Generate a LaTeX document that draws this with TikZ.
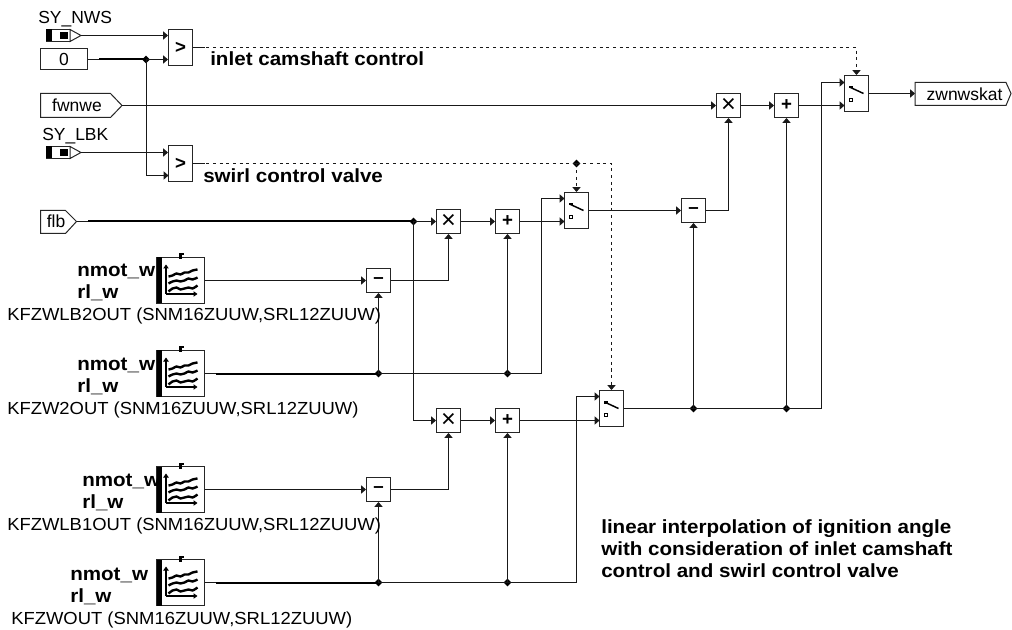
\documentclass[tikz,border=0pt]{standalone}
\usepackage{fontspec}
\usetikzlibrary{arrows.meta,shapes.geometric}
\setmainfont{Liberation Sans}
\newfontfamily\bfam[FakeStretch=1.08]{Liberation Sans Bold}
\newfontfamily\cfam[FakeStretch=1.055]{Liberation Sans}
\newcommand{\regf}{\fontsize{13.1pt}{15pt}\selectfont}
\newcommand{\capf}{\fontsize{13.1pt}{15pt}\cfam}
\newcommand{\boldf}{\fontsize{14.3pt}{15pt}\bfam}
\tikzset{
  x=0.75pt,y=-0.75pt,
  wire/.style={line width=0.75pt,draw=black!90},
  thickwire/.style={line width=1.5pt,draw=black},
  arr/.style={wire,-{Triangle[length=3.6pt,width=6pt]}},
  dashwire/.style={wire,dash pattern=on 2.25pt off 2.75pt},
  dasharr/.style={dashwire,-{Triangle[length=3.6pt,width=6pt]}},
  opbox/.style={draw=black!85,line width=0.75pt,fill=white,minimum width=18pt,minimum height=18pt,inner sep=0pt},
  tallbox/.style={draw=black!85,line width=0.75pt,fill=white,minimum width=18pt,minimum height=27pt,inner sep=0pt},
  mapbox/.style={draw=black!85,line width=0.75pt,fill=white,minimum width=36pt,minimum height=34.5pt,inner sep=0pt},
  mulf/.style={font=\fontsize{19pt}{19pt}\selectfont},
  addf/.style={font=\bfseries\fontsize{14pt}{14pt}\selectfont},
  junc/.style={diamond,fill=black,inner sep=0pt,minimum size=6pt},
  tagtext/.style={font=\regf,inner sep=0pt},
  lbl/.style={font=\regf,inner sep=0pt,anchor=base west},
  clbl/.style={font=\capf,inner sep=0pt,anchor=base west},
  blbl/.style={font=\boldf,inner sep=0pt,anchor=base west},
  tag/.style={draw=black!85,line width=0.75pt,fill=white},
}
\newcommand{\mapicon}[1]{%
  \begin{scope}[shift={(#1.center)}]
    \fill[black] (-24,-23) rectangle (-19,23);
    \fill[black] (-1.5,-27) rectangle (1,-21);
    \fill[black] (1,-27) rectangle (3,-25);
    \draw[line width=0.9pt,-{Triangle[length=3pt,width=4pt]}] (-14.5,13.5) -- (-14.5,-16);
    \draw[line width=0.9pt,-{Triangle[length=3pt,width=4pt]}] (-14.5,13.5) -- (17,13.5);
    \draw[line width=1.8pt] plot[smooth,tension=0.6] coordinates {(-12,-4) (-8,-5) (-4,-7) (0,-6) (4,-8) (8,-8) (12,-10) (17,-11)};
    \draw[line width=1.8pt] plot[smooth,tension=0.6] coordinates {(-12,3) (-8,1) (-4,0) (0,1) (4,0) (8,-2) (12,-1) (17,-3)};
    \draw[line width=1.8pt] plot[smooth,tension=0.6] coordinates {(-12,11) (-8,8) (-4,7) (0,9) (4,8) (8,7) (12,8) (17,5)};
  \end{scope}}
\newcommand{\switchicon}[1]{%
  \begin{scope}[shift={(#1.center)}]
    \draw[line width=1.1pt,black] (-7,-6.5) -- (7,0);
    \fill[black] (-7.5,-7.5) rectangle (-3.5,-5);
    \draw[line width=0.6pt] (-7,4.5) rectangle (-4,7.5);
  \end{scope}}
\begin{document}
\begin{tikzpicture}
\useasboundingbox (0,0) rectangle (1012,630);
\fill[white] (0,0) rectangle (1012,630);

% --- operators
\node[tallbox,addf] (cmp1) at (180.5,47.5) {>};
\node[tallbox,addf] (cmp2) at (180.5,163.5) {>};
\node[tallbox] (sw3) at (856.5,93.5) {};
\node[tallbox] (sw1) at (576.5,210.5) {};
\node[tallbox] (sw2) at (611.5,408.5) {};
\switchicon{sw3}\switchicon{sw1}\switchicon{sw2}
\node[opbox,mulf] (mul3) at (728.5,105.5) {×};
\node[opbox,addf] (add3) at (786.5,105.5) {+};
\node[opbox,addf] (sub3) at (693.5,210.5) {–};
\node[opbox,mulf] (mul1) at (448.5,221.5) {×};
\node[opbox,addf] (add1) at (507.5,221.5) {+};
\node[opbox,addf] (sub1) at (378.5,280.5) {–};
\node[opbox,mulf] (mul2) at (448.5,420.5) {×};
\node[opbox,addf] (add2) at (507.5,420.5) {+};
\node[opbox,addf] (sub2) at (378.5,489.5) {–};

% --- maps
\node[mapbox] (map1) at (180.5,280.5) {};
\node[mapbox] (map2) at (180.5,373.5) {};
\node[mapbox] (map3) at (180.5,489.5) {};
\node[mapbox] (map4) at (180.5,582.5) {};
\mapicon{map1}\mapicon{map2}\mapicon{map3}\mapicon{map4}

% --- inputs and output
\draw[tag] (40.5,48.5) rectangle (87.5,69.5);
\node[tagtext] (zero) at (64,59.5) {0};
\coordinate (zeroR) at (87.5,59.5);
\coordinate (zeroT) at (99,59.5);
\draw[tag] (40.5,93.5) -- (110.5,93.5) -- (122,105.5) -- (110.5,117.5) -- (40.5,117.5) -- cycle;
\node[tagtext] (fwn) at (77,105.5) {fwnwe};
\coordinate (fwnR) at (122,105.5);
\draw[tag] (40.5,210.5) -- (65.5,210.5) -- (76.5,221.5) -- (65.5,233.5) -- (40.5,233.5) -- cycle;
\node[tagtext] (flb) at (56,221.5) {flb};
\coordinate (flbR) at (76.5,221.5);
\coordinate (flbT) at (88,221.5);
\draw[tag] (915,82.5) -- (1006,82.5) -- (1011,93.5) -- (1006,105.5) -- (915,105.5) -- cycle;
\node[tagtext] (zwn) at (964.5,94) {zwnwskat};
\coordinate (zwnL) at (915,93.5);
% ground-signal connectors
\newcommand{\sysignal}[2]{%
  \draw[tag] (46,#2-6) rectangle (70,#2+6);
  \fill[black] (46,#2-6) rectangle (51.5,#2+6);
  \fill[black] (60,#2-3.5) rectangle (68,#2+3.5);
  \draw[tag] (70,#2-6) -- (81,#2) -- (70,#2+6) -- cycle;
  \coordinate (#1) at (81,#2);}
\sysignal{synws}{35.5}
\sysignal{sylbk}{152.5}
\node[lbl] (synwsT) at (38,24) {SY\_NWS};
\node[lbl] (sylbkT) at (42,141) {SY\_LBK};

% --- junctions
\node[junc] (j0) at (146,59.5) {};
\node[junc] (jfl) at (413.5,221.5) {};
\node[junc] (jd) at (576.5,163.5) {};
\node[junc] (j11) at (378.5,373.5) {};
\node[junc] (j12) at (507.5,373.5) {};
\node[junc] (j21) at (378.5,582.5) {};
\node[junc] (j22) at (507.5,582.5) {};
\node[junc] (js1) at (693.5,408.5) {};
\node[junc] (js2) at (786.5,408.5) {};

% --- comparators
\draw[arr] (synws) -- (synws -| cmp1.west);
\draw[wire] (zeroR) -- (zeroT);
\draw[thickwire] (zeroT) -- (j0.center);
\draw[arr] (j0.center) -- (j0 -| cmp1.west);
\coordinate (c2b) at (168.5,175.5);
\draw[arr] (j0.center) |- (c2b);
\draw[arr] (sylbk) -- (sylbk -| cmp2.west);
\coordinate (d1) at (856.5,47.5);
\draw[wire] (cmp1.east) -- ++(12,0);
\draw[dasharr] (cmp1.east) -- (d1) -- (sw3.north);
\draw[wire] (cmp2.east) -- ++(12,0);
\draw[dashwire] (cmp2.east) -- (jd.center);
\coordinate (d2) at (611.5,163.5);
\draw[dasharr] (jd.center) -- (d2) -- (sw2.north);
\draw[dasharr] (jd.center) -- (jd |- sw1.north);

% --- top row
\draw[arr] (fwnR) -- (mul3.west);
\draw[arr] (mul3.east) -- (add3.west);
\coordinate (s3a) at (844.5,105.5);
\coordinate (s3b) at (844.5,82.5);
\draw[arr] (add3.east) -- (s3a);
\draw[arr] (sw3.east) -- (zwnL);

% --- middle rows
\draw[wire] (flbR) -- (flbT);
\draw[thickwire] (flbT) -- (jfl.center);
\draw[arr] (jfl.center) -- (mul1.west);
\draw[arr] (mul1.east) -- (add1.west);
\coordinate (s1a) at (564.5,221.5);
\coordinate (s1b) at (564.5,198.5);
\draw[arr] (add1.east) -- (s1a);
\draw[arr] (sw1.east) -- (sub3.west);
\draw[arr] (sub3.east) -| (mul3.south);
\draw[arr] (map1.east) -- (sub1.west);
\draw[arr] (sub1.east) -| (mul1.south);
\coordinate (t2) at (216,373.5);
\draw[wire] (map2.east) -- (t2);
\draw[thickwire] (t2) -- (j11.center);
\draw[wire] (j11.center) -- (j12.center);
\draw[arr] (j11.center) -- (sub1.south);
\draw[arr] (j12.center) -- (add1.south);
\coordinate (k1) at (541.5,373.5);
\draw[wire] (j12.center) -- (k1);
\draw[arr] (k1) |- (s1b);

\draw[arr] (jfl.center) |- (mul2.west);
\draw[arr] (mul2.east) -- (add2.west);
\coordinate (s2a) at (599.5,420.5);
\coordinate (s2b) at (599.5,396.5);
\draw[arr] (add2.east) -- (s2a);
\draw[arr] (map3.east) -- (sub2.west);
\draw[arr] (sub2.east) -| (mul2.south);
\coordinate (t4) at (216,582.5);
\draw[wire] (map4.east) -- (t4);
\draw[thickwire] (t4) -- (j21.center);
\draw[wire] (j21.center) -- (j22.center);
\draw[arr] (j21.center) -- (sub2.south);
\draw[arr] (j22.center) -- (add2.south);
\coordinate (k2) at (576.5,582.5);
\draw[wire] (j22.center) -- (k2);
\draw[arr] (k2) |- (s2b);

% --- switch 2 output
\coordinate (k3) at (821.5,408.5);
\draw[wire] (sw2.east) -- (js1.center);
\draw[wire] (js1.center) -- (js2.center);
\draw[wire] (js2.center) -- (k3);
\draw[arr] (js1.center) -- (sub3.south);
\draw[arr] (js2.center) -- (add3.south);
\draw[arr] (k3) |- (s3b);

% --- labels
\node[blbl] (t1) at (210,66) {inlet camshaft control};
\node[blbl] (t2x) at (203,183) {swirl control valve};
\newcommand{\maplabels}[5]{%
  \node[blbl] (#1a) at (#2,#3) {nmot\_w};
  \node[blbl] (#1b) at (#2,#3+22) {rl\_w};
  \node[clbl] (#1c) at (#4,#3+44) {#5};}
\maplabels{m1}{77}{277}{7}{KFZWLB2OUT (SNM16ZUUW,SRL12ZUUW)}
\maplabels{m2}{77}{370}{7}{KFZW2OUT (SNM16ZUUW,SRL12ZUUW)}
\maplabels{m3}{82}{486}{7}{KFZWLB1OUT (SNM16ZUUW,SRL12ZUUW)}
\maplabels{m4}{70}{580}{11}{KFZWOUT (SNM16ZUUW,SRL12ZUUW)}
\node[blbl] (n1) at (601,533) {linear interpolation of ignition angle};
\node[blbl] (n2) at (601,555) {with consideration of inlet camshaft};
\node[blbl] (n3) at (601,577) {control and swirl control valve};
\end{tikzpicture}
\end{document}
